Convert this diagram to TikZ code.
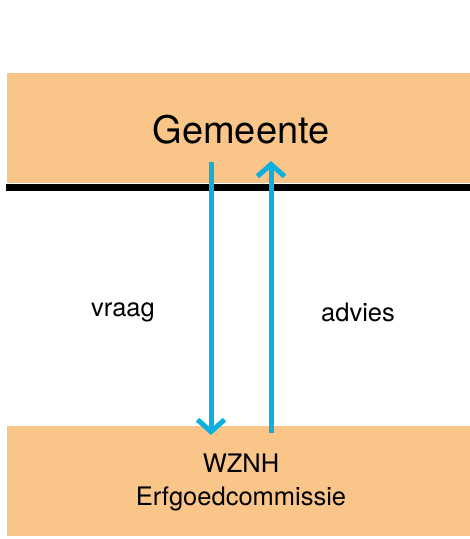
\documentclass[tikz,border=0pt]{standalone}
\usepackage{fontspec}
\setmainfont{TeX Gyre Heros}
\usetikzlibrary{arrows,arrows.meta,positioning}
\definecolor{oranje}{HTML}{FAC589}
\definecolor{blauw}{HTML}{0BB0E0}
\begin{document}
\begin{tikzpicture}[x=1pt,y=-1pt]
                \tikzstyle{every node}+=[inner sep=0pt]
                \tikzstyle{vlak}=[fill=oranje, draw=none, minimum width=463pt, minimum height=110pt, anchor=north west]
                \tikzstyle{balk}=[black, line width=7pt]
                \tikzstyle{pijl}=[blauw, line width=5pt, -{Straight Barb[length=12pt,width=27pt,line width=5pt]}]
                \tikzstyle{tekst}=[font=\fontsize{25.5}{30}\selectfont]
                \useasboundingbox (0,0) rectangle (470,539);
                \node [vlak] (gemeente) at (7,73) {};
                \node [vlak] (wznh) at (7,426) {};
                \draw (241,130) node [font=\fontsize{38}{42}\selectfont] (gem) {Gemeente};
                \draw (241,463) node [tekst] (wz) {WZNH};
                \draw (241,499) node [tekst] (erf) {Erfgoedcommissie};
                \coordinate (l1) at (211,162);
                \coordinate (l2) at (211,435);
                \coordinate (r1) at (271,433);
                \coordinate (r2) at (271,161);
                \draw [balk] (gemeente.south west) ++(-1,4) -- ++(464,0);
                \draw [balk] (wznh.south west) ++(-1,6) -- ++(464,0);
                \draw [pijl] (l1) -- (l2);
                \draw [pijl] (r1) -- (r2);
                \draw (123,312) node [tekst] (vraag) {vraag};
                \draw (358,312) node [tekst] (advies) {advies};
            \end{tikzpicture}
\end{document}
